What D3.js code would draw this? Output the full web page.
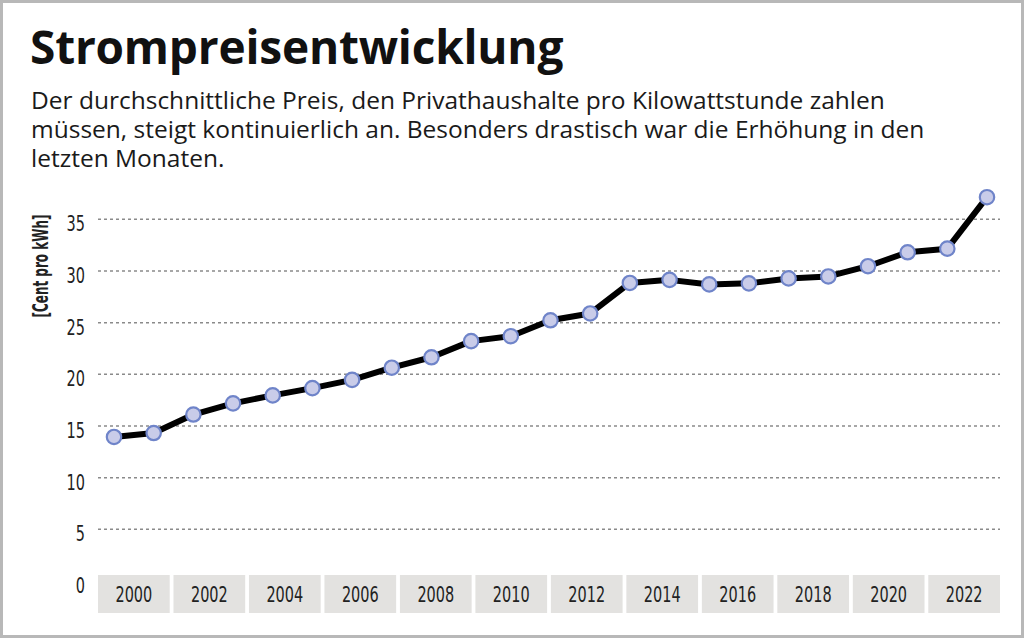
<!DOCTYPE html>
<html>
<head>
<meta charset="utf-8">
<script src="https://cdn.jsdelivr.net/npm/d3@7"></script>
<style>
  body { margin: 0; background: #fff; }
  svg { display: block; }
</style>
</head>
<body>
<svg id="chart" width="1024" height="638"></svg>
<script>
const years = d3.range(2000, 2023);
const prices = [13.94, 14.32, 16.11, 17.19, 17.96, 18.66, 19.46, 20.64, 21.65, 23.21, 23.69, 25.23,
  25.89, 28.84, 29.14, 28.70, 28.80, 29.28, 29.47, 30.46, 31.81, 32.16, 37.14];
const yTicks = [0, 5, 10, 15, 20, 25, 30, 35];
const xLabels = ["2000", "2002", "2004", "2006", "2008", "2010", "2012", "2014", "2016", "2018", "2020", "2022"];

const title = "Strompreisentwicklung";
const subtitle = [
  "Der durchschnittliche Preis, den Privathaushalte pro Kilowattstunde zahlen",
  "müssen, steigt kontinuierlich an. Besonders drastisch war die Erhöhung in den",
  "letzten Monaten."
];
const yLabel = "[Cent pro kWh]";

const narrow = "'DejaVu Sans Condensed', 'DejaVu Sans', sans-serif";
const digitW = 9.2; // condensed digit width in the reference

const svg = d3.select("#chart");

// frame
svg.append("rect")
  .attr("x", 1.5).attr("y", 1.5)
  .attr("width", 1021).attr("height", 635)
  .attr("fill", "#fff")
  .attr("stroke", "#b8b8b8")
  .attr("stroke-width", 3);

svg.append("text")
  .attr("x", 30).attr("y", 64)
  .text(title)
  .style("font-family", "'Open Sans', sans-serif")
  .style("font-weight", "700")
  .style("font-size", "46px")
  .style("letter-spacing", "-0.2px")
  .attr("fill", "#111");

svg.append("g")
  .selectAll("text")
  .data(subtitle)
  .enter()
  .append("text")
  .attr("x", 31)
  .attr("y", (d, i) => 108.5 + i * 29)
  .text((d) => d)
  .style("font-family", "'Open Sans', sans-serif")
  .style("font-size", "24.5px")
  .attr("fill", "#1a1a1a");

const left = 98, right = 1000;

const x = d3.scalePoint().domain(years).range([114, 987]);
const y = d3.scaleLinear().domain([0, 35]).range([581, 219.3]);
const xBand = d3.scaleBand().domain(xLabels).range([left, right]).paddingInner(0.05).paddingOuter(0);

// grid
svg.append("g")
  .selectAll("line")
  .data(yTicks.filter((t) => t > 0))
  .enter()
  .append("line")
  .attr("x1", left).attr("x2", right)
  .attr("y1", (d) => y(d)).attr("y2", (d) => y(d))
  .attr("stroke", "#8a8a8a")
  .attr("stroke-width", 1.5)
  .attr("stroke-dasharray", "3,3");

// y tick labels
svg.append("g")
  .selectAll("text")
  .data(yTicks)
  .enter()
  .append("text")
  .attr("x", 85)
  .attr("y", (d) => y(d) + 12)
  .attr("text-anchor", "end")
  .attr("textLength", (d) => String(d).length * digitW)
  .attr("lengthAdjust", "spacingAndGlyphs")
  .text((d) => d)
  .style("font-family", narrow)
  .style("font-size", "21px")
  .attr("fill", "#222");

svg.append("text")
  .attr("transform", "translate(48,266) rotate(-90)")
  .attr("text-anchor", "middle")
  .attr("textLength", 103)
  .attr("lengthAdjust", "spacingAndGlyphs")
  .text(yLabel)
  .style("font-family", narrow)
  .style("font-weight", "700")
  .style("font-size", "21px")
  .attr("fill", "#222");

// x label boxes
const xg = svg.append("g")
  .selectAll("g")
  .data(xLabels)
  .enter()
  .append("g")
  .attr("transform", (d) => `translate(${xBand(d)},575)`);

xg.append("rect")
  .attr("width", xBand.bandwidth())
  .attr("height", 38)
  .attr("fill", "#e3e2e0");

xg.append("text")
  .attr("x", xBand.bandwidth() / 2)
  .attr("y", 27)
  .attr("text-anchor", "middle")
  .attr("textLength", (d) => d.length * digitW)
  .attr("lengthAdjust", "spacingAndGlyphs")
  .text((d) => d)
  .style("font-family", narrow)
  .style("font-size", "21px")
  .attr("fill", "#222");

// line + points
const line = d3.line()
  .x((d, i) => x(years[i]))
  .y((d) => y(d));

svg.append("path")
  .datum(prices)
  .attr("d", line)
  .attr("fill", "none")
  .attr("stroke", "#000")
  .attr("stroke-width", 6)
  .attr("stroke-linejoin", "round");

svg.append("g")
  .selectAll("circle")
  .data(prices)
  .enter()
  .append("circle")
  .attr("cx", (d, i) => x(years[i]))
  .attr("cy", (d) => y(d))
  .attr("r", 7.2)
  .attr("fill", "#c9cce9")
  .attr("stroke", "#6f84c9")
  .attr("stroke-width", 2.2);
</script>
</body>
</html>
